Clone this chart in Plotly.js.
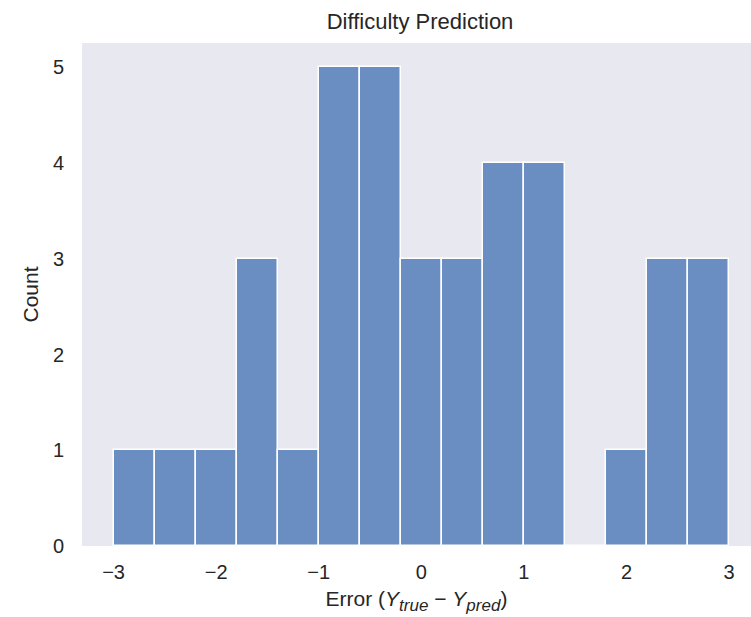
<!DOCTYPE html>
<html>
<head>
<meta charset="utf-8">
<script src="https://cdn.plot.ly/plotly-3.0.1.min.js"></script>
<style>html,body{margin:0;padding:0;background:#fff;}#chart{width:751px;height:617px;}</style>
</head>
<body>
<div id="chart"></div>
<script>
const binCenters = [-2.8, -2.4, -2.0, -1.6, -1.2, -0.8, -0.4, 0.0, 0.4, 0.8, 1.2, 1.6, 2.0, 2.4, 2.8];
const counts = [1, 1, 1, 3, 1, 5, 5, 3, 3, 4, 4, 0, 1, 3, 3];
const binWidth = 0.4;
const xTicks = [-3, -2, -1, 0, 1, 2, 3];
const xTickText = ['\u22123', '\u22122', '\u22121', '0', '1', '2', '3'];
const yTicks = [0, 1, 2, 3, 4, 5];

const fam = 'Liberation Sans, Arial, sans-serif';
const txt = '#262626';
const xTitle = 'Error (<i>Y</i><sub><span style="font-size:17px"><i>true</i></span></sub> \u2212 ' +
               '<i>Y</i><sub><span style="font-size:17px"><i>pred</i></span></sub>)';

Plotly.newPlot('chart', [{
  type: 'bar',
  x: binCenters,
  y: counts,
  width: binCenters.map(() => binWidth),
  marker: {color: '#6a8dc2', line: {color: '#ffffff', width: 1.5}},
  hoverinfo: 'x+y'
}], {
  width: 751, height: 617,
  margin: {l: 82, r: 0, t: 43, b: 71},
  paper_bgcolor: '#ffffff',
  plot_bgcolor: '#e8e8f1',
  font: {family: fam, color: txt},
  showlegend: false,
  bargap: 0,
  title: {text: 'Difficulty Prediction', font: {size: 22, family: fam, color: txt},
          x: 0.5593, xanchor: 'center', y: 0.966, yanchor: 'middle', yref: 'container'},
  xaxis: {
    range: [-3.308, 3.214],
    tickvals: xTicks, ticktext: xTickText,
    showgrid: false, zeroline: false, showline: false,
    ticks: '', ticklabelstandoff: 12,
    tickfont: {size: 20, family: fam, color: txt},
    title: {text: xTitle, font: {size: 21, family: fam, color: txt}, standoff: 9}
  },
  yaxis: {
    range: [0, 5.254],
    tickvals: yTicks,
    showgrid: false, zeroline: false, showline: false,
    ticks: '', ticklabelstandoff: 17,
    tickfont: {size: 20, family: fam, color: txt},
    title: {text: 'Count', font: {size: 21, family: fam, color: txt}, standoff: 8}
  }
}, {displayModeBar: false});
</script>
</body>
</html>
